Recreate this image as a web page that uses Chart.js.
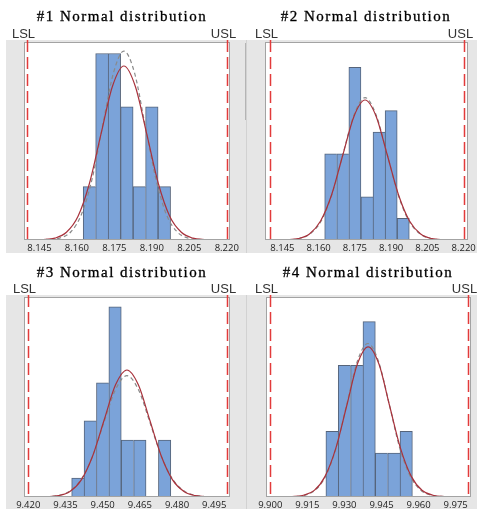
<!DOCTYPE html>
<html>
<head>
<meta charset="utf-8">
<script src="https://cdn.jsdelivr.net/npm/chart.js@4.4.1/dist/chart.umd.min.js"></script>
<style>
  html, body { margin: 0; padding: 0; background: #fff; overflow: hidden; }
  #wrap { position: relative; width: 484px; height: 509px; }
  canvas { position: absolute; }
  .title {
    position: absolute; width: 220px; text-align: center; white-space: nowrap;
    font-family: 'Liberation Serif', serif; font-size: 15px; letter-spacing: 1.5px;
    line-height: 18px; color: #000; -webkit-text-stroke: 0.3px #000;
  }
</style>
</head>
<body>
<div id="wrap">
  <canvas id="c1" width="247" height="255" style="left:0;top:0"></canvas>
  <canvas id="c2" width="237" height="255" style="left:247px;top:0"></canvas>
  <canvas id="c3" width="247" height="254" style="left:0;top:255px"></canvas>
  <canvas id="c4" width="237" height="254" style="left:247px;top:255px"></canvas>
  <div class="title" style="left:12px;top:7px">#1 Normal distribution</div>
  <div class="title" style="left:256px;top:7px">#2 Normal distribution</div>
  <div class="title" style="left:12px;top:263px">#3 Normal distribution</div>
  <div class="title" style="left:258px;top:263px">#4 Normal distribution</div>
</div>
<script>
// histogram bins (centres) and counts
const bins1 = [8.165, 8.170, 8.175, 8.180, 8.185, 8.190, 8.195];
const counts1 = [2, 7, 7, 5, 2, 5, 2];
const bins2 = [8.165, 8.170, 8.175, 8.180, 8.185, 8.190, 8.195];
const counts2 = [4, 4, 8, 2, 5, 6, 1];
const bins3 = [9.440, 9.445, 9.450, 9.455, 9.460, 9.465, 9.470, 9.475];
const counts3 = [1, 4, 6, 10, 3, 3, 0, 3];
const bins4 = [9.925, 9.930, 9.935, 9.940, 9.945, 9.950, 9.955];
const counts4 = [3, 6, 6, 8, 2, 2, 3];

// fitted curves (solid = within, dashed = overall)
const fitX1 = [8.1457, 8.1512, 8.1558, 8.1604, 8.1650, 8.1696, 8.1742, 8.1788, 8.1834, 8.1880, 8.1926, 8.1972, 8.2018, 8.2064, 8.2119];
const fitY1 = [0.01, 0.07, 0.29, 0.88, 2.12, 3.96, 5.76, 6.53, 5.76, 3.96, 2.12, 0.88, 0.29, 0.07, 0.01];
const overallX1 = [8.1465, 8.1533, 8.1576, 8.1618, 8.1661, 8.1703, 8.1746, 8.1788, 8.1831, 8.1873, 8.1916, 8.1958, 8.2001, 8.2043, 8.2111];
const overallY1 = [0.01, 0.08, 0.31, 0.96, 2.30, 4.30, 6.26, 7.09, 6.26, 4.30, 2.30, 0.96, 0.31, 0.08, 0.01];

const fitX2 = [8.1461, 8.1516, 8.1562, 8.1608, 8.1654, 8.1700, 8.1746, 8.1792, 8.1838, 8.1884, 8.1930, 8.1976, 8.2022, 8.2068, 8.2123];
const fitY2 = [0.01, 0.07, 0.28, 0.88, 2.11, 3.94, 5.73, 6.49, 5.73, 3.94, 2.11, 0.88, 0.28, 0.07, 0.01];
const overallX2 = [8.1456, 8.1520, 8.1565, 8.1611, 8.1656, 8.1701, 8.1747, 8.1792, 8.1837, 8.1883, 8.1928, 8.1973, 8.2019, 8.2064, 8.2128];
const overallY2 = [0.01, 0.07, 0.29, 0.89, 2.14, 4.00, 5.82, 6.60, 5.82, 4.00, 2.14, 0.89, 0.29, 0.07, 0.01];

const fitX3 = [9.4267, 9.4322, 9.4368, 9.4414, 9.4460, 9.4506, 9.4552, 9.4598, 9.4644, 9.4690, 9.4736, 9.4782, 9.4828, 9.4874, 9.4929];
const fitY3 = [0.01, 0.07, 0.29, 0.90, 2.17, 4.05, 5.90, 6.68, 5.90, 4.05, 2.17, 0.90, 0.29, 0.07, 0.01];
const overallX3 = [9.4269, 9.4316, 9.4363, 9.4410, 9.4457, 9.4504, 9.4551, 9.4598, 9.4645, 9.4692, 9.4739, 9.4786, 9.4833, 9.4880, 9.4927];
const overallY3 = [0.01, 0.07, 0.28, 0.86, 2.07, 3.87, 5.63, 6.38, 5.63, 3.87, 2.07, 0.86, 0.28, 0.07, 0.01];

const fitX4 = [9.9081, 9.9134, 9.9178, 9.9221, 9.9265, 9.9309, 9.9352, 9.9396, 9.9440, 9.9483, 9.9527, 9.9571, 9.9615, 9.9658, 9.9711];
const fitY4 = [0.01, 0.08, 0.30, 0.93, 2.22, 4.15, 6.05, 6.85, 6.05, 4.15, 2.22, 0.93, 0.30, 0.08, 0.01];
const overallX4 = [9.9079, 9.9139, 9.9181, 9.9224, 9.9267, 9.9310, 9.9352, 9.9395, 9.9438, 9.9481, 9.9523, 9.9566, 9.9609, 9.9652, 9.9711];
const overallY4 = [0.01, 0.08, 0.31, 0.95, 2.27, 4.25, 6.18, 7.00, 6.18, 4.25, 2.27, 0.95, 0.31, 0.08, 0.01];

// tick labels and spec limits
const ticks12 = [8.145, 8.160, 8.175, 8.190, 8.205, 8.220];
const ticks3 = [9.420, 9.435, 9.450, 9.465, 9.480, 9.495];
const ticks4 = [9.900, 9.915, 9.930, 9.945, 9.960, 9.975];
const specs12 = [8.14, 8.22];
const specs3 = [9.42, 9.50];
const specs4 = [9.90, 9.98];

function pts(xs, ys) {
    return xs.map((x, i) => ({ x: x, y: ys[i] }));
}

function panel(id, d, lay) {
    const decor = {
        id: 'decor',
        beforeDraw(chart) {
            const ctx = chart.ctx, a = chart.chartArea;
            ctx.save();
            ctx.fillStyle = '#e6e6e6';
            ctx.fillRect(lay.grayX0, 40, lay.grayX1 - lay.grayX0, lay.grayY1 - 40);
            if (lay.divider) {
                ctx.fillStyle = '#d2d2d2';
                ctx.fillRect(246, 40, 1, lay.grayY1 - 40);
                if (lay.darkSeg) {
                    ctx.fillStyle = '#b4b4b4';
                    ctx.fillRect(245, 43, 1, 77);
                }
            }
            ctx.fillStyle = '#fff';
            ctx.fillRect(a.left, a.top, a.right - a.left, a.bottom - a.top);
            ctx.restore();
        },
        afterDatasetsDraw(chart) {
            const ctx = chart.ctx, a = chart.chartArea, xs = chart.scales.x;
            ctx.save();
            ctx.strokeStyle = '#a3a3a3';
            ctx.lineWidth = 1;
            ctx.strokeRect(a.left + 0.5, a.top + 0.5, a.right - a.left - 1, a.bottom - a.top - 1);
            ctx.font = '13px "Liberation Sans", sans-serif';
            ctx.fillStyle = '#333';
            ctx.textAlign = 'center';
            ctx.textBaseline = 'alphabetic';
            ['LSL', 'USL'].forEach((name, i) => {
                const px = Math.round(xs.getPixelForValue(d.specs[i])) + 0.5;
                ctx.strokeStyle = '#e23b3b';
                ctx.lineWidth = 1.5;
                ctx.setLineDash([12, 5]);
                ctx.beginPath();
                ctx.moveTo(px, 40);
                ctx.lineTo(px, a.bottom);
                ctx.stroke();
                ctx.fillText(name, px - 4, 38);
            });
            ctx.restore();
        }
    };

    return new Chart(document.getElementById(id), {
        type: 'bar',
        data: {
            datasets: [{
                type: 'line',
                data: pts(d.fitX, d.fitY),
                borderColor: '#a8323c',
                borderWidth: 1.2,
                pointRadius: 0,
                cubicInterpolationMode: 'monotone',
                order: 1
            }, {
                type: 'line',
                data: pts(d.overallX, d.overallY),
                borderColor: '#8a8a8a',
                borderDash: [4, 3],
                borderWidth: 1.2,
                pointRadius: 0,
                cubicInterpolationMode: 'monotone',
                order: 2
            }, {
                type: 'bar',
                data: pts(d.bins, d.counts),
                backgroundColor: '#7ba3d9',
                borderColor: '#56647a',
                borderWidth: ctx => {
                    const i = ctx.dataIndex;
                    const next = i + 1 < d.counts.length ? d.counts[i + 1] : 0;
                    return { top: 1, left: 1, bottom: 0, right: next < d.counts[i] ? 1 : 0 };
                },
                barPercentage: 1,
                categoryPercentage: 1,
                order: 3
            }]
        },
        options: {
            responsive: false,
            animation: false,
            devicePixelRatio: 1,
            layout: { padding: { left: lay.padL, right: lay.padR, top: 42, bottom: 0 } },
            plugins: {
                legend: { display: false },
                tooltip: { enabled: false },
                title: { display: false }
            },
            scales: {
                x: {
                    type: 'linear',
                    min: lay.xMin,
                    max: lay.xMax,
                    offset: false,
                    grid: { display: false, drawTicks: false, offset: false },
                    border: { display: false },
                    afterBuildTicks: ax => { ax.ticks = d.ticks.map(v => ({ value: v })); },
                    afterFit: ax => { ax.height = lay.axisH; },
                    ticks: {
                        callback: v => v.toFixed(3),
                        autoSkip: false,
                        maxRotation: 0,
                        padding: 3,
                        color: '#222',
                        font: { family: 'Open Sans', size: 9.5 }
                    }
                },
                y: { display: false, min: 0, max: lay.yMax }
            }
        },
        plugins: [decor]
    });
}

panel('c1',
    { bins: bins1, counts: counts1, fitX: fitX1, fitY: fitY1, overallX: overallX1, overallY: overallY1, ticks: ticks12, specs: specs12 },
    { grayX0: 6, grayX1: 247, grayY1: 253, divider: true, darkSeg: true, padL: 24, padR: 17, axisH: 15, xMin: 8.1388, xMax: 8.2213, yMax: 7.43 });
panel('c2',
    { bins: bins2, counts: counts2, fitX: fitX2, fitY: fitY2, overallX: overallX2, overallY: overallY2, ticks: ticks12, specs: specs12 },
    { grayX0: 0, grayX1: 230, grayY1: 253, divider: false, padL: 18, padR: 16, axisH: 15, xMin: 8.1378, xMax: 8.2218, yMax: 9.18 });
panel('c3',
    { bins: bins3, counts: counts3, fitX: fitX3, fitY: fitY3, overallX: overallX3, overallY: overallY3, ticks: ticks3, specs: specs3 },
    { grayX0: 6, grayX1: 247, grayY1: 254, divider: true, darkSeg: false, padL: 24, padR: 17, axisH: 12, xMin: 9.41827, xMax: 9.50137, yMax: 10.52 });
panel('c4',
    { bins: bins4, counts: counts4, fitX: fitX4, fitY: fitY4, overallX: overallX4, overallY: overallY4, ticks: ticks4, specs: specs4 },
    { grayX0: 0, grayX1: 230, grayY1: 254, divider: false, padL: 19, padR: 13, axisH: 12, xMin: 9.89826, xMax: 9.98122, yMax: 9.12 });
</script>
</body>
</html>
